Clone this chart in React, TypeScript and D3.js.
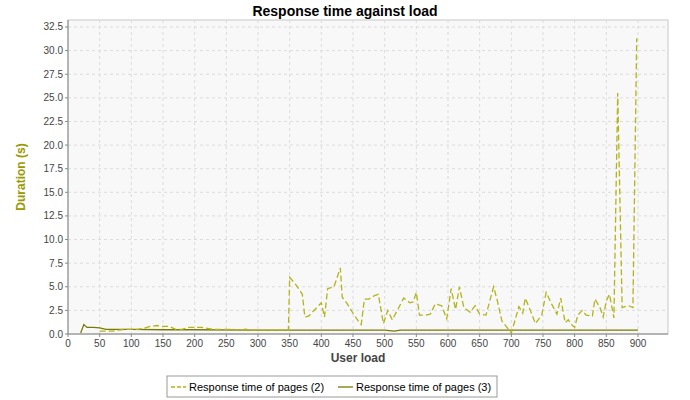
import * as d3 from 'd3';

const pagesTwo: [number, number][] = [
  [50, 0.3], [60, 0.3], [70, 0.3], [80, 0.4], [90, 0.5], [100, 0.5], [110, 0.5], [120, 0.6],
  [130, 0.8], [140, 0.9], [150, 0.8], [160, 0.8], [170, 0.5], [180, 0.5], [190, 0.7], [200, 0.7],
  [210, 0.7], [220, 0.6], [230, 0.5], [240, 0.5], [250, 0.5], [260, 0.5], [270, 0.4], [280, 0.5],
  [290, 0.4], [300, 0.4], [320, 0.4], [340, 0.4], [348, 0.4], [350, 6.0], [360, 5.2], [370, 4.2],
  [374, 1.8], [380, 1.9], [390, 2.6], [400, 3.3], [405, 1.8], [410, 4.8], [420, 5.0], [430, 7.0],
  [433, 3.9], [440, 3.3], [450, 2.2], [460, 1.2], [463, 1.0], [468, 3.7], [475, 3.7], [485, 4.1],
  [490, 4.2], [498, 1.1], [505, 2.5], [512, 1.5], [520, 2.5], [530, 3.8], [540, 3.3], [545, 3.4],
  [550, 4.4], [555, 2.0], [565, 2.0], [572, 2.1], [580, 3.2], [590, 3.0], [598, 1.6], [605, 4.8],
  [612, 2.6], [618, 5.0], [625, 2.8], [635, 2.3], [643, 3.0], [650, 2.1], [660, 2.0], [672, 5.0],
  [678, 3.5], [685, 1.4], [700, 0.1], [712, 2.9], [718, 2.2], [722, 3.8], [730, 2.5], [738, 1.1],
  [748, 2.0], [755, 4.4], [765, 3.0], [772, 2.1], [778, 3.8], [785, 1.2], [790, 1.5], [795, 1.0],
  [800, 0.7], [805, 2.0], [812, 2.5], [818, 2.0], [828, 1.9], [832, 3.7], [840, 2.8], [845, 1.8],
  [850, 3.5], [855, 4.2], [862, 1.7], [868, 25.5], [875, 2.8], [885, 3.0], [892, 2.8], [898, 31.3],
];

const pagesThree: [number, number][] = [
  [20, 0.1], [25, 1.0], [30, 0.7], [40, 0.7], [50, 0.65], [60, 0.5], [80, 0.5], [100, 0.5],
  [150, 0.45], [200, 0.45], [300, 0.4], [400, 0.4], [500, 0.4], [515, 0.3], [525, 0.4],
  [600, 0.4], [700, 0.4], [800, 0.4], [900, 0.4],
];

const xTicks = d3.range(0, 901, 50);
const yTicks = d3.range(0, 32.6, 2.5);
const seriesNames = ['Response time of pages (2)', 'Response time of pages (3)'];
const colors = ['#b3b31a', '#7a7a00'];

const W = 690, H = 400;
const left = 68, right = 668, top = 20, bottom = 334;
const font = '"Liberation Sans", Arial, sans-serif';

export default function App() {
  const x = d3.scaleLinear().domain([0, 947.4]).range([left, right]);
  const y = d3.scaleLinear().domain([0, 33.24]).range([bottom, top]);
  const line = d3.line<[number, number]>().x(d => x(d[0])).y(d => y(d[1]));

  return (
    <svg width={W} height={H} style={{ position: 'absolute', left: 0, top: 0, background: '#fff' }} fontFamily={font}>
      <text x={W / 2} y={16} textAnchor="middle" fontSize={14} fontWeight="bold">Response time against load</text>
      <rect x={left} y={top} width={right - left} height={bottom - top} fill="#f8f8f8" stroke="#c8c8c8" />
      {xTicks.map(t => (
        <line key={'gx' + t} x1={x(t)} x2={x(t)} y1={top} y2={bottom} stroke="#dcdcdc" strokeDasharray="3,3" />
      ))}
      {yTicks.map(t => (
        <line key={'gy' + t} x1={left} x2={right} y1={y(t)} y2={y(t)} stroke="#dcdcdc" strokeDasharray="3,3" />
      ))}
      <path d={line(pagesThree) ?? ''} fill="none" stroke={colors[1]} strokeWidth={1.3} />
      <path d={line(pagesTwo) ?? ''} fill="none" stroke={colors[0]} strokeWidth={1.3} strokeDasharray="6,3" />
      <line x1={left} x2={right} y1={bottom} y2={bottom} stroke="#888" />
      <line x1={left} x2={left} y1={top} y2={bottom} stroke="#888" />
      {xTicks.map(t => (
        <g key={'tx' + t}>
          <line x1={x(t)} x2={x(t)} y1={bottom} y2={bottom + 3} stroke="#888" />
          <text x={x(t)} y={bottom + 13} textAnchor="middle" fontSize={10} fill="#444">{t}</text>
        </g>
      ))}
      {yTicks.map(t => (
        <g key={'ty' + t}>
          <line x1={left - 3} x2={left} y1={y(t)} y2={y(t)} stroke="#888" />
          <text x={left - 5} y={y(t) + 3.5} textAnchor="end" fontSize={10} fill="#444">{t.toFixed(1)}</text>
        </g>
      ))}
      <text x={(left + right) / 2 - 10} y={362} textAnchor="middle" fontSize={12} fontWeight="bold" fill="#444">User load</text>
      <text transform={`translate(25,${(top + bottom) / 2}) rotate(-90)`} textAnchor="middle" fontSize={12} fontWeight="bold" fill="#999900">Duration (s)</text>
      <rect x={167} y={376} width={330} height={21} fill="#fff" stroke="#999" />
      {seriesNames.map((n, i) => (
        <g key={n} transform={`translate(${171 + i * 167},387)`}>
          <line x1={0} x2={15} y1={0} y2={0} stroke={colors[i]} strokeWidth={1.3} strokeDasharray={i === 0 ? '4,2' : undefined} />
          <text x={18} y={4} fontSize={11}>{n}</text>
        </g>
      ))}
    </svg>
  );
}
